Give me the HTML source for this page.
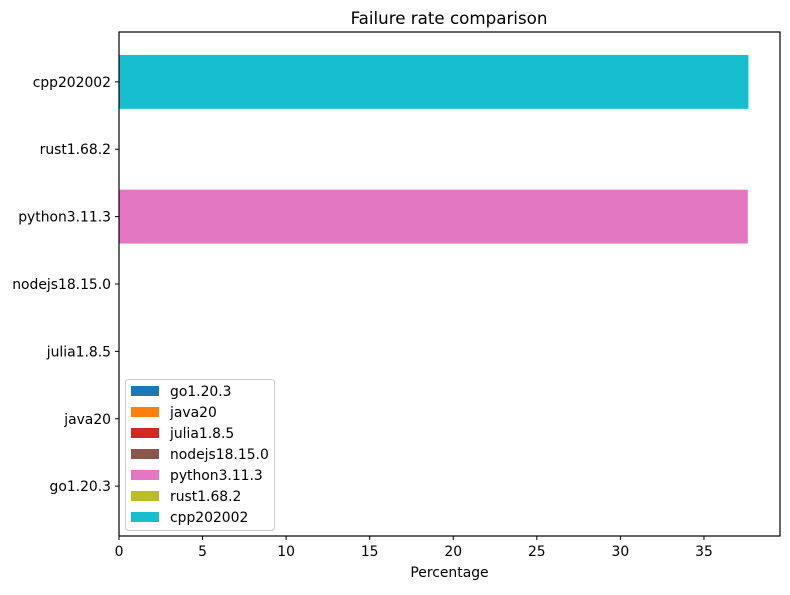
<!DOCTYPE html>
<html><head><meta charset="utf-8"><style>
body{margin:0;background:#fff;font-family:"Liberation Sans","DejaVu Sans",sans-serif;}
svg text{font-family:"DejaVu Sans","Liberation Sans",sans-serif;}
</style></head><body>
<svg id="chart" width="790" height="590" xmlns="http://www.w3.org/2000/svg">
<rect width="790" height="590" fill="#fff"/>
<text x="449" y="24" font-size="16.7" text-anchor="middle" fill="#000">Failure rate comparison</text>
<g id="bars"></g><g id="axes"></g><g id="legend"></g>
</svg>
<script>
const categories = ["go1.20.3","java20","julia1.8.5","nodejs18.15.0","python3.11.3","rust1.68.2","cpp202002"];
const values = [0,0,0,0,37.62,0,37.66];
const colors = ["#1f77b4","#ff7f0e","#d62728","#8c564b","#e377c2","#bcbd22","#17becf"];
const xTicks = [0,5,10,15,20,25,30,35];
const NS="http://www.w3.org/2000/svg";
const L=119,R=780,T=32,B=536;
const xmax=39.55, ymin=-0.74, ymax=6.74;
const xs=v=>L+(v/xmax)*(R-L);
const ys=v=>B-(v-ymin)/(ymax-ymin)*(B-T);
function mk(tag,attrs,parent){const e=document.createElementNS(NS,tag);for(const k in attrs)e.setAttribute(k,attrs[k]);parent.appendChild(e);return e;}
const bars=document.getElementById('bars'),axes=document.getElementById('axes'),leg=document.getElementById('legend');
categories.forEach((c,i)=>{
  const r=mk('rect',{x:xs(0),y:ys(i+0.4),width:xs(values[i])-xs(0),height:ys(i-0.4)-ys(i+0.4),fill:colors[i]},bars);
  
  
  mk('line',{x1:L,x2:L-4,y1:ys(i),y2:ys(i),stroke:'#000'},axes);
  const lb=mk('text',{x:L-8,y:ys(i)+5,'font-size':13.9,'text-anchor':'end'},axes);
  lb.textContent=c;
  
  
});
xTicks.forEach(v=>{
  mk('line',{x1:xs(v),x2:xs(v),y1:B,y2:B+4,stroke:'#000'},axes);
  const lb=mk('text',{x:xs(v),y:B+20,'font-size':13.9,'text-anchor':'middle'},axes);
  lb.textContent=v;
  
  
});
const fr=mk('rect',{x:L,y:T,width:R-L,height:B-T,fill:'none',stroke:'#000','stroke-width':1.2},axes);


const xt=mk('text',{x:(L+R)/2,y:577,'font-size':13.9,'text-anchor':'middle'},axes);
xt.textContent='Percentage';


const lbox=mk('rect',{x:125.5,y:379.5,width:149,height:151,rx:3,fill:'#fff','fill-opacity':0.8,stroke:'#ccc'},leg);


categories.forEach((c,i)=>{
  const y=391+i*21;
  const g=mk('g',{},leg);
  
  
  mk('rect',{x:131,y:y-5,width:28,height:10,fill:colors[i]},g);
  const t=mk('text',{x:170,y:y+5,'font-size':13.9},g);
  t.textContent=c;
});
</script>
</body></html>
